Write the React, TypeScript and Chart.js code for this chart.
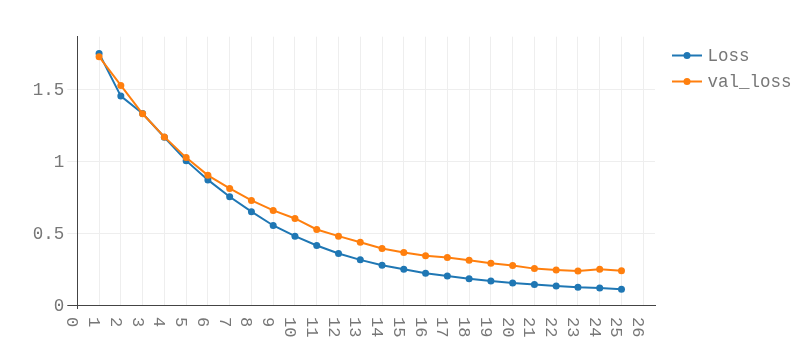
import React, { useEffect, useRef } from "react";
import { Chart, registerables } from "chart.js";

Chart.register(...registerables);

const epochs = [1, 2, 3, 4, 5, 6, 7, 8, 9, 10, 11, 12, 13, 14, 15, 16, 17, 18, 19, 20, 21, 22, 23, 24, 25];
const lossValues = [1.75, 1.453, 1.332, 1.167, 1.004, 0.87, 0.753, 0.649, 0.553, 0.479, 0.414, 0.358, 0.314, 0.277, 0.249, 0.221, 0.202, 0.183, 0.167, 0.153, 0.142, 0.132, 0.123, 0.119, 0.109];
const valLossValues = [1.727, 1.527, 1.33, 1.169, 1.025, 0.902, 0.811, 0.727, 0.658, 0.602, 0.525, 0.479, 0.437, 0.393, 0.365, 0.342, 0.33, 0.312, 0.291, 0.274, 0.253, 0.244, 0.237, 0.249, 0.239];
const xTickValues = [0, 1, 2, 3, 4, 5, 6, 7, 8, 9, 10, 11, 12, 13, 14, 15, 16, 17, 18, 19, 20, 21, 22, 23, 24, 25, 26];
const yTickValues = [0, 0.5, 1, 1.5];
const seriesNames = ["Loss", "val_loss"];
const seriesColors = ["#1f77b4", "#ff7f0e"];

const FONT = "'Liberation Mono', 'DejaVu Sans Mono', monospace";
const TEXT_COLOR = "#777";

export default function App() {
  const canvasRef = useRef<HTMLCanvasElement | null>(null);

  useEffect(() => {
    const canvas = canvasRef.current;
    if (!canvas) return;

    const overlay = {
      id: "overlay",
      afterDraw(chart: any) {
        const ctx = chart.ctx;
        const xs = chart.scales.x;
        const bottom = chart.chartArea.bottom;
        ctx.save();
        // x tick labels rotated clockwise
        ctx.font = `17px ${FONT}`;
        ctx.fillStyle = TEXT_COLOR;
        ctx.textAlign = "left";
        ctx.textBaseline = "alphabetic";
        for (const v of xTickValues) {
          const px = xs.getPixelForValue(v);
          ctx.save();
          ctx.translate(px - 10, bottom + 12);
          ctx.rotate(Math.PI / 2);
          ctx.fillText(String(v), 0, 0);
          ctx.restore();
        }
        // small tick at x=0
        ctx.strokeStyle = "#444";
        ctx.lineWidth = 1;
        ctx.beginPath();
        const p0 = Math.round(xs.getPixelForValue(0)) + 0.5;
        ctx.moveTo(p0, bottom);
        ctx.lineTo(p0, bottom + 4);
        ctx.stroke();

        // legend
        const lx = 672;
        const rows = [55.5, 81.5];
        ctx.font = `17.5px ${FONT}`;
        ctx.textBaseline = "middle";
        seriesNames.forEach((name, i) => {
          const y = rows[i];
          ctx.strokeStyle = seriesColors[i];
          ctx.lineWidth = 2;
          ctx.beginPath();
          ctx.moveTo(lx, y);
          ctx.lineTo(lx + 30, y);
          ctx.stroke();
          ctx.fillStyle = seriesColors[i];
          ctx.beginPath();
          ctx.arc(lx + 15, y, 3.5, 0, Math.PI * 2);
          ctx.fill();
          ctx.fillStyle = TEXT_COLOR;
          ctx.fillText(name, lx + 35.5, y + 1);
        });
        ctx.restore();
      },
    };

    const chart = new Chart(canvas, {
      type: "line",
      data: {
        datasets: [
          {
            label: seriesNames[0],
            data: epochs.map((e, i) => ({ x: e, y: lossValues[i] })),
            borderColor: seriesColors[0],
            backgroundColor: seriesColors[0],
            borderWidth: 2,
            pointRadius: 3.5,
            pointBorderWidth: 0,
            order: 1,
          },
          {
            label: seriesNames[1],
            data: epochs.map((e, i) => ({ x: e, y: valLossValues[i] })),
            borderColor: seriesColors[1],
            backgroundColor: seriesColors[1],
            borderWidth: 2,
            pointRadius: 3.5,
            pointBorderWidth: 0,
            order: 0,
          },
        ],
      },
      options: {
        responsive: false,
        animation: false,
        layout: { padding: { left: 0, top: 36.7, right: 152, bottom: 0 } },
        plugins: { legend: { display: false }, tooltip: { enabled: false } },
        scales: {
          x: {
            type: "linear",
            min: 0,
            max: 26.54,
            afterBuildTicks: (scale: any) => {
              scale.ticks = xTickValues.map((v) => ({ value: v }));
            },
            afterFit: (scale: any) => {
              scale.height = 46;
            },
            ticks: { display: false },
            grid: { color: "#eee", drawTicks: false, lineWidth: 1 },
            border: { color: "#444", width: 1 },
          },
          y: {
            type: "linear",
            min: 0,
            max: 1.866,
            afterBuildTicks: (scale: any) => {
              scale.ticks = yTickValues.map((v) => ({ value: v }));
            },
            afterFit: (scale: any) => {
              scale.width = 77.3;
            },
            ticks: {
              padding: 3,
              labelOffset: 1,
              color: TEXT_COLOR,
              font: { family: FONT, size: 17.5 },
              callback: (v: any) => String(v),
            },
            grid: {
              color: (c: any) => (c.tick && c.tick.value === 0 ? "#444" : "#eee"),
              tickLength: 10,
              lineWidth: 1,
            },
            border: { color: "#444", width: 1 },
          },
        },
      },
      plugins: [overlay],
    });

    return () => chart.destroy();
  }, []);

  return (
    <div style={{ position: "absolute", left: 0, top: 0, width: 807, height: 351, background: "#fff" }}>
      <canvas ref={canvasRef} width={807} height={351} style={{ width: 807, height: 351, display: "block" }} />
    </div>
  );
}
